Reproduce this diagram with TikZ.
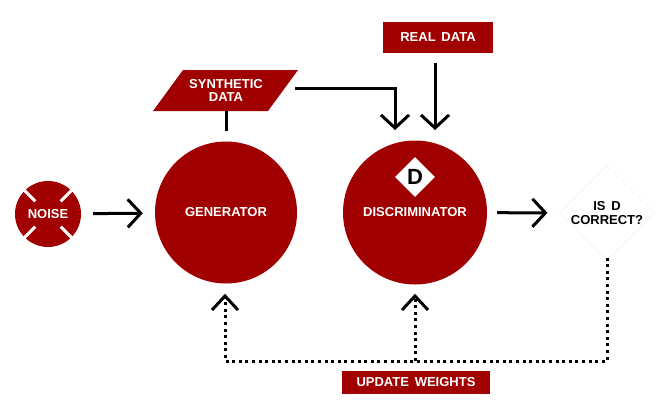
\documentclass[tikz,border=0pt]{standalone}
\usepackage{fontspec}
\setmainfont{Liberation Sans}
\usetikzlibrary{arrows.meta,shapes.geometric,calc}
\definecolor{ganred}{HTML}{A10000}
\definecolor{faint}{HTML}{E4EEE8}
\begin{document}
\begin{tikzpicture}[x=1pt,y=-1pt,
  lbl/.style={font=\fontsize{13}{13.5}\selectfont\bfseries, align=center},
  wlbl/.style={lbl, text=white},
  redcircle/.style={circle, fill=ganred, inner sep=0pt, wlbl},
  redbox/.style={rectangle, fill=ganred, inner sep=0pt, wlbl},
  chev/.style={-{Straight Barb[length=13pt,width=28pt]}},
  arr/.style={line width=3pt, chev},
  dotline/.style={line width=3pt, dash pattern=on 3pt off 3.6pt},
]
\useasboundingbox (0,0) rectangle (670,416);

% Noise
\node[redcircle, minimum size=66pt] (noise) at (48,214) {NOISE};
\foreach \a in {45,135,225,315}
  \draw[white, line width=3pt] (noise.center) ++(\a:18) -- ++(\a:17);

% Generator and discriminator
\node[redcircle, minimum size=142pt] (gen) at (226,212.5) {\raisebox{-3pt}{GENERATOR}};
\node[redcircle, minimum size=144pt] (disc) at (415,212.5) {DISCRIMINATOR};
\node[diamond, fill=white, inner sep=0pt, minimum size=40pt,
      font=\fontsize{22}{22}\selectfont\bfseries] (dmark) at (415,177) {D};

% Is D correct?
\node[diamond, draw=faint, line width=0.4pt, inner sep=0pt, minimum size=94pt, lbl] (isd) at (607,213) {IS\, D\\CORRECT?};

% Synthetic data parallelogram
\fill[ganred] (183,70) -- (298,70) -- (268,111) -- (153,111) -- cycle;
\node[wlbl, minimum width=115pt, minimum height=41pt, inner sep=0pt] (synth) at (226,90.5)
  {SYNTHETIC\\DATA};

% Real data box
\node[redbox, minimum width=110pt, minimum height=31pt] (real) at (438,37.5) {REAL\, DATA};

% Update weights box
\node[redbox, minimum width=148pt, minimum height=23pt] (upd) at (416,382.5) {UPDATE\, WEIGHTS};

% Solid connectors
\draw[arr, shorten <=12pt, shorten >=12pt] (noise) -- (gen);
\draw[arr, shorten <=10pt, shorten >=12pt] (disc) -- (isd);
\draw[line width=3pt, shorten >=10pt] (synth) -- (gen);
\coordinate (s1) at (295,88);
\coordinate (s2) at (395,130);
\draw[arr] (s1) -| (s2);
\coordinate (r1) at (435,63);
\coordinate (r2) at (435,130);
\draw[arr] (r1) -- (r2);

% Dotted feedback
\coordinate (c1) at (607,361);
\coordinate (c2) at (225,361);
\coordinate (c3) at (225,296);
\coordinate (j) at (415,361);
\coordinate (c4) at (415,296);
\draw[dotline] ([yshift=3pt]isd.south) -- (c1) -- (c2) -- (c3);
\draw[dotline] (j) -- (c4);
\draw[line width=3pt] ($(c3)+(-13,14)$) -- (c3) -- ($(c3)+(13,14)$);
\draw[line width=3pt] ($(c4)+(-13,14)$) -- (c4) -- ($(c4)+(13,14)$);
\end{tikzpicture}
\end{document}
